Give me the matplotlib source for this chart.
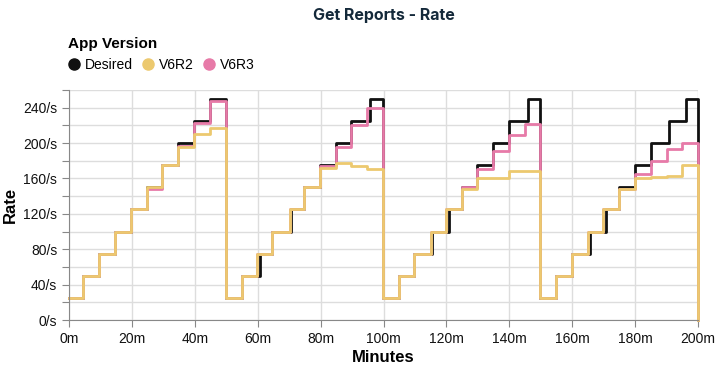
import matplotlib
matplotlib.use("Agg")
import matplotlib.pyplot as plt
from matplotlib.lines import Line2D
from matplotlib.ticker import MultipleLocator, FuncFormatter

# step start times (minutes), last entry is the end of the run
desired_t = [0, 4.6, 9.6, 14.6, 19.7, 24.7, 29.7, 34.8, 39.7, 44.8,
             49.8, 54.9, 60.7, 64.7, 70.6, 74.7, 79.8, 84.9, 89.7, 95.7,
             99.9, 104.9, 109.7, 115.4, 120.8, 124.9, 129.8, 134.9, 140, 145.8,
             149.8, 154.7, 160, 165.7, 170.6, 174.9, 180, 185, 190.9, 196.1,
             200]
measured_t = [0, 4.6, 9.6, 14.6, 19.7, 24.7, 29.7, 34.8, 39.7, 44.8,
              49.8, 54.9, 59.7, 64.7, 70.3, 74.7, 79.8, 84.9, 89.7, 94.7,
              99.9, 104.9, 109.7, 115, 119.9, 124.9, 129.8, 134.9, 140, 145,
              149.8, 154.7, 160, 164.9, 169.9, 174.9, 180, 185, 190, 195,
              200]

desired = [25, 50, 75, 100, 125, 150, 175, 200, 225, 250] * 4 + [0]
v6r2 = [25, 50, 75, 100, 125, 150, 175, 195, 210, 217,
        25, 50, 75, 100, 125, 150, 172, 178, 174, 171,
        25, 50, 75, 100, 125, 148, 161, 160, 169, 169,
        25, 50, 75, 100, 125, 148, 160, 162, 163, 175,
        0]
v6r3 = [25, 50, 75, 100, 125, 148, 175, 197, 223, 247,
        25, 50, 75, 100, 125, 150, 174, 195, 220, 240,
        25, 50, 75, 100, 125, 150, 171, 191, 209, 222,
        25, 50, 75, 100, 125, 148, 165, 180, 193, 200,
        0]

c_desired = "#111111"
c_v6r2 = "#ecc96f"
c_v6r3 = "#e77aa8"

plt.rcParams["font.family"] = ["Liberation Sans", "DejaVu Sans"]

fig = plt.figure(figsize=(7.17, 3.67), dpi=100)
ax = fig.add_axes([69 / 717, 47 / 367, 629 / 717, 230 / 367])

ax.plot(desired_t, desired, drawstyle="steps-post", color=c_desired, lw=2, clip_on=False)
ax.plot(measured_t, v6r3, drawstyle="steps-post", color=c_v6r3, lw=2, clip_on=False)
ax.plot(measured_t, v6r2, drawstyle="steps-post", color=c_v6r2, lw=2, clip_on=False)

ax.set_xlim(0, 200)
ax.set_ylim(0, 260)
ax.xaxis.set_major_locator(MultipleLocator(20))
ax.xaxis.set_major_formatter(FuncFormatter(lambda v, p: f"{v:.0f}m"))
ax.yaxis.set_major_locator(MultipleLocator(20))
ax.yaxis.set_major_formatter(
    FuncFormatter(lambda v, p: f"{v:.0f}/s" if round(v) % 40 == 0 else ""))
ax.grid(True, color="#dddddd", lw=1)
ax.set_axisbelow(True)
for s in ["top", "right"]:
    ax.spines[s].set_visible(False)
for s in ["left", "bottom"]:
    ax.spines[s].set_color("#888888")
ax.tick_params(colors="#888888", labelcolor="#111111", labelsize=10, length=5)

ax.set_xlabel("Minutes", fontsize=12, fontweight="bold", labelpad=3)
ax.set_ylabel("Rate", fontsize=12, fontweight="bold", labelpad=4)

fig.text(0.535, 0.958, "Get Reports - Rate", ha="center", va="center",
         fontsize=11.5, fontweight="bold", color="#14293a", family=["Inter", "DejaVu Sans"])

handles = [Line2D([], [], ls="", marker="o", ms=8, color=c) for c in (c_desired, c_v6r2, c_v6r3)]
leg = fig.legend(handles, ["Desired", "V6R2", "V6R3"], title="App Version",
                 loc="upper left", bbox_to_anchor=(68 / 717, 1 - 37 / 367), ncol=3,
                 frameon=False, fontsize=10, handlelength=0.8, handletextpad=0.4,
                 columnspacing=0.7, borderpad=0, borderaxespad=0, alignment="left",
                 labelspacing=0.5)
leg.get_title().set_fontweight("bold")
leg.get_title().set_fontsize(11)

fig.savefig("out.png", dpi=100)
